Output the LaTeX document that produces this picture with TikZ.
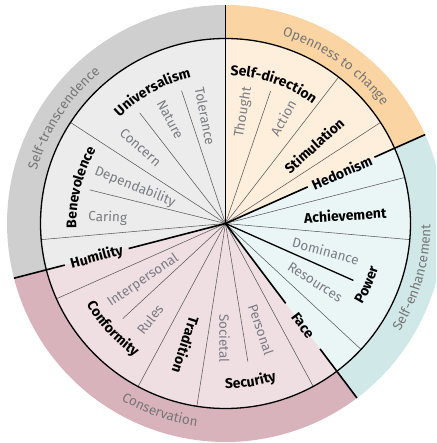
\documentclass[tikz,border=0pt]{standalone}
\usepackage{fontspec}
\setmainfont{Fira Sans}
\usetikzlibrary{decorations.text}
\definecolor{grayIn}{HTML}{ECECEC}
\definecolor{grayOut}{HTML}{CFCFCF}
\definecolor{orIn}{HTML}{FEEEDC}
\definecolor{orOut}{HTML}{FAD5A3}
\definecolor{tlIn}{HTML}{EAF5F6}
\definecolor{tlOut}{HTML}{D1E8E8}
\definecolor{pkIn}{HTML}{EFDFE3}
\definecolor{pkOut}{HTML}{D9B3BC}
\definecolor{subtxt}{HTML}{7B7C84}
\definecolor{ringtxt}{HTML}{777777}
\definecolor{thinln}{HTML}{5A5A5A}
\tikzset{
  thinline/.style={draw=thinln, line width=0.55pt},
  thickline/.style={draw=black, line width=1.6pt},
  mainlbl/.style={font=\bfseries\fontsize{14}{16}\selectfont, text=black, inner sep=0pt},
  sublbl/.style={font=\fontsize{13.5}{16}\selectfont, text=subtxt, inner sep=0pt},
}
\newcommand{\arctext}[5]{% angle-from, angle-to, radius, format, text
  \path[decorate, decoration={text along path, text={|#4|#5}, text align=center}]
    (#1:#3) arc[start angle=#1, end angle=#2, radius=#3];}
\newcommand{\mainfmt}{\bfseries\fontsize{14}{16}\selectfont\color{black}}
\newcommand{\ringfmt}{\fontsize{13.5}{16}\selectfont\color{ringtxt}}
\begin{document}
\begin{tikzpicture}[x=1pt,y=1pt]
\useasboundingbox (-225.5,-219.5) rectangle (210.5,223.5);
\begin{scope}
\clip (-225.5,-219.5) rectangle (210.5,223.5);
% outer ring sectors
\def\Ro{218.5}
\def\Ri{185}
\fill[grayOut] (0,0) -- (90:\Ro) arc[start angle=90, end angle=194.5, radius=\Ro] -- cycle;
\fill[pkOut] (0,0) -- (194.5:\Ro) arc[start angle=194.5, end angle=307, radius=\Ro] -- cycle;
\fill[tlOut] (0,0) -- (-53:\Ro) arc[start angle=-53, end angle=24, radius=\Ro] -- cycle;
\fill[orOut] (0,0) -- (24:\Ro) arc[start angle=24, end angle=90, radius=\Ro] -- cycle;
% inner sectors
\fill[grayIn] (0,0) -- (90:\Ri) arc[start angle=90, end angle=194.5, radius=\Ri] -- cycle;
\fill[pkIn] (0,0) -- (194.5:\Ri) arc[start angle=194.5, end angle=307, radius=\Ri] -- cycle;
\fill[tlIn] (0,0) -- (-53:\Ri) arc[start angle=-53, end angle=24, radius=\Ri] -- cycle;
\fill[orIn] (0,0) -- (24:\Ri) arc[start angle=24, end angle=90, radius=\Ri] -- cycle;
% thin full dividers
\foreach \a in {52.3,33.1,14.4,-5,-42.9,-61.7,-98.9,241.8,204,185,146.9}
  \draw[thinline] (0,0) -- (\a:\Ri);
% short sub dividers
\foreach \a in {71.2,166.1,127.8,108.3,-80.8,222.8}
  \draw[thinline] (0,0) -- (\a:140);
\draw[thickline, line width=1.3pt] (0,0) -- (-24:140);
% inner circle
\draw[black, line width=1.3pt] (0,0) circle[radius=\Ri];
% thick dividers
\draw[thickline] (0,0) -- (90:\Ro);
\draw[thickline] (0,0) -- (24:90);
\draw[thickline] (24:163) -- (24:\Ro);
\draw[thickline] (0,0) -- (-53:100);
\draw[thickline] (-53:157) -- (-53:\Ro);
\draw[thickline] (0,0) -- (194.5:100);
\draw[thickline] (194.5:166) -- (194.5:\Ro);
% radial main labels
\node[mainlbl, rotate=24] (hed) at (23.7:127) {Hedonism};
\node[mainlbl, rotate=42] (sti) at (41.4:118) {Stimulation};
\node[mainlbl, rotate=3.5] (ach) at (4:120) {Achievement};
\node[mainlbl, rotate=-53] (fac) at (-52.8:128) {Face};
\node[mainlbl, rotate=-108] (tra) at (-108:128) {Tradition};
\node[mainlbl, rotate=15] (hum) at (194.8:133) {Humility};
% sub labels
\node[sublbl, rotate=80.5] (tho) at (80.8:112.5) {Thought};
\node[sublbl, rotate=61] (act) at (61.3:120) {Action};
\node[sublbl, rotate=-15.3] (dom) at (-15.3:104) {Dominance};
\node[sublbl, rotate=-33] (res) at (-33.2:107) {Resources};
\node[sublbl, rotate=-71.5] (per) at (-71.5:112) {Personal};
\node[sublbl, rotate=-90] (soc) at (-90.5:115) {Societal};
\node[sublbl, rotate=-2.7] (car) at (177.3:118) {Caring};
\node[sublbl, rotate=-22] (dep) at (158:97.6) {Dependability};
\node[sublbl, rotate=-41.8] (con) at (138.2:114) {Concern};
\node[sublbl, rotate=-62] (nat) at (118:118) {Nature};
\node[sublbl, rotate=-79.2] (tol) at (100.8:109.4) {Tolerance};
\node[sublbl, rotate=34.6] (int) at (214.6:100) {Interpersonal};
\node[sublbl, rotate=51.8] (rul) at (231.8:122) {Rules};
% curved main labels
\arctext{111}{31}{148}{\mainfmt}{Self-direction}
\arctext{159}{79}{150}{\mainfmt}{Universalism}
\arctext{206}{126}{149}{\mainfmt}{Benevolence}
\arctext{183}{263}{161}{\mainfmt}{Conformity}
\arctext{239}{319}{165}{\mainfmt}{Security}
\arctext{-63.5}{16.5}{159}{\mainfmt}{Power}
% ring labels
\arctext{187}{107}{196}{\ringfmt}{Self-transcendence}
\arctext{95}{15}{196}{\ringfmt}{Openness to change}
\arctext{-56}{24}{205}{\ringfmt}{Self-enhancement}
\arctext{210.7}{290.7}{205}{\ringfmt}{Conservation}
\end{scope}
\end{tikzpicture}
\end{document}
